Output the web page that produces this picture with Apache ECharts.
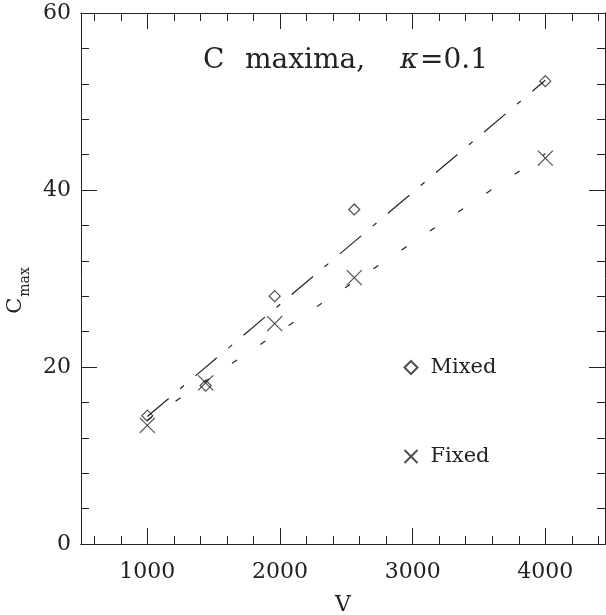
<!DOCTYPE html>
<html>
<head>
<meta charset="utf-8">
<script src="https://cdn.jsdelivr.net/npm/echarts@6/dist/echarts.min.js"></script>
<style>
html, body { margin: 0; padding: 0; background: #fff; }
#box01 { width: 606px; height: 615px; }
</style>
</head>
<body>
<div id="box01"></div>
<script>
// data (V = 10*L^2)
var sizes = [1000, 1440, 1960, 2560, 4000];
var mixedC = [14.5, 17.9, 28.0, 37.8, 52.3];
var fixedC = [13.4, 18.2, 24.9, 30.1, 43.6];
// fitted lines, end points
var fitMixedX = [1000, 4000];
var fitMixedY = [14.4, 52.4];
var fitFixedX = [1000, 4000];
var fitFixedY = [14.0, 44.1];
// ticks
var xMajor = [1000, 2000, 3000, 4000];
var xMinor = [600, 800, 1200, 1400, 1600, 1800, 2200, 2400, 2600, 2800,
              3200, 3400, 3600, 3800, 4200, 4400];

var serif = '"DejaVu Serif", "Liberation Serif", serif';
var ink = '#222';

function pairs(xs, ys) {
    var out = [];
    for (var i = 0; i < xs.length; i++) out.push([xs[i], ys[i]]);
    return out;
}

function xAxisOf(pos, values, len, labels) {
    return {
        type: 'value', position: pos, min: 500, max: 4450,
        name: labels ? 'V' : '', nameLocation: 'middle', nameGap: 50,
        nameTextStyle: { fontFamily: serif, fontSize: 22, color: ink },
        axisLine: { show: true, onZero: false, lineStyle: { color: ink, width: 1 } },
        axisTick: { show: true, inside: true, length: len, customValues: values,
                    lineStyle: { color: ink, width: 1 } },
        axisLabel: { show: labels, customValues: values, margin: 17,
                     fontFamily: serif, fontSize: 22, color: ink,
                     formatter: function (v) { return String(v); } },
        splitLine: { show: false }
    };
}

function yAxisOf(pos, labels) {
    return {
        type: 'value', position: pos, min: 0, max: 60, interval: 20,
        name: labels ? '{a|C}{b|max}' : '', nameLocation: 'middle', nameGap: 38, nameRotate: 90,
        nameTextStyle: {
            color: ink,
            padding: [0, 24, 0, 0],
            rich: {
                a: { fontFamily: serif, fontSize: 21, color: ink },
                b: { fontFamily: serif, fontSize: 14, color: ink, padding: [20, 0, 0, 1] }
            }
        },
        axisLine: { show: true, onZero: false, lineStyle: { color: ink, width: 1 } },
        axisTick: { show: true, inside: true, length: 16, lineStyle: { color: ink, width: 1 } },
        minorTick: { show: true, splitNumber: 5, length: 8, lineStyle: { color: ink, width: 1 } },
        axisLabel: { show: labels, margin: 10, fontFamily: serif, fontSize: 22, color: ink },
        splitLine: { show: false },
        minorSplitLine: { show: false }
    };
}

var myChart = echarts.init(document.getElementById('box01'));

var titleFont = { fontFamily: serif, fontSize: 28, fontWeight: 'normal', color: ink };

var option = {
    animation: false,
    backgroundColor: '#fff',
    grid: { left: 81, right: 1, top: 13, bottom: 71, outerBoundsMode: 'none', containLabel: false },
    title: {
        text: '{c|C}{m|maxima,}{k|κ}{e|=0.1}',
        left: 198, top: 42,
        textStyle: {
            fontWeight: 'normal',
            rich: {
                c: Object.assign({ width: 42 }, titleFont),
                m: Object.assign({ width: 155 }, titleFont),
                k: Object.assign({ width: 20, fontStyle: 'italic' }, titleFont),
                e: titleFont
            }
        }
    },
    legend: {
        data: ['Mixed', 'Fixed'],
        orient: 'vertical', left: 397, top: 352,
        itemGap: 68, itemWidth: 13, itemHeight: 13,
        textStyle: { fontFamily: serif, fontSize: 21, color: ink, padding: [0, 0, 0, 8] }
    },
    xAxis: [
        xAxisOf('bottom', xMajor, 16, true),
        xAxisOf('bottom', xMinor, 8, false),
        xAxisOf('top', xMajor, 16, false),
        xAxisOf('top', xMinor, 8, false)
    ],
    yAxis: [
        yAxisOf('left', true),
        yAxisOf('right', false)
    ],
    series: [
        {
            name: 'Mixed', type: 'scatter',
            data: pairs(sizes, mixedC),
            symbol: 'path://M5,0L10,5L5,10L0,5Z', symbolSize: 11,
            itemStyle: { color: 'none', borderColor: ink, borderWidth: 1.2 }
        },
        {
            name: 'Fixed', type: 'scatter',
            data: pairs(sizes, fixedC),
            symbol: 'path://M0,0L10,10M0,10L10,0', symbolSize: 15,
            itemStyle: { color: 'none', borderColor: ink, borderWidth: 1.2 }
        },
        {
            name: 'fitMixed', type: 'line',
            data: pairs(fitMixedX, fitMixedY),
            symbol: 'none', silent: true,
            lineStyle: { color: ink, width: 1.2, type: [28, 15, 5, 15] }
        },
        {
            name: 'fitFixed', type: 'line',
            data: pairs(fitFixedX, fitFixedY),
            symbol: 'none', silent: true,
            lineStyle: { color: ink, width: 1.2, type: [6, 28] }
        }
    ]
};

myChart.setOption(option);
</script>
</body>
</html>
